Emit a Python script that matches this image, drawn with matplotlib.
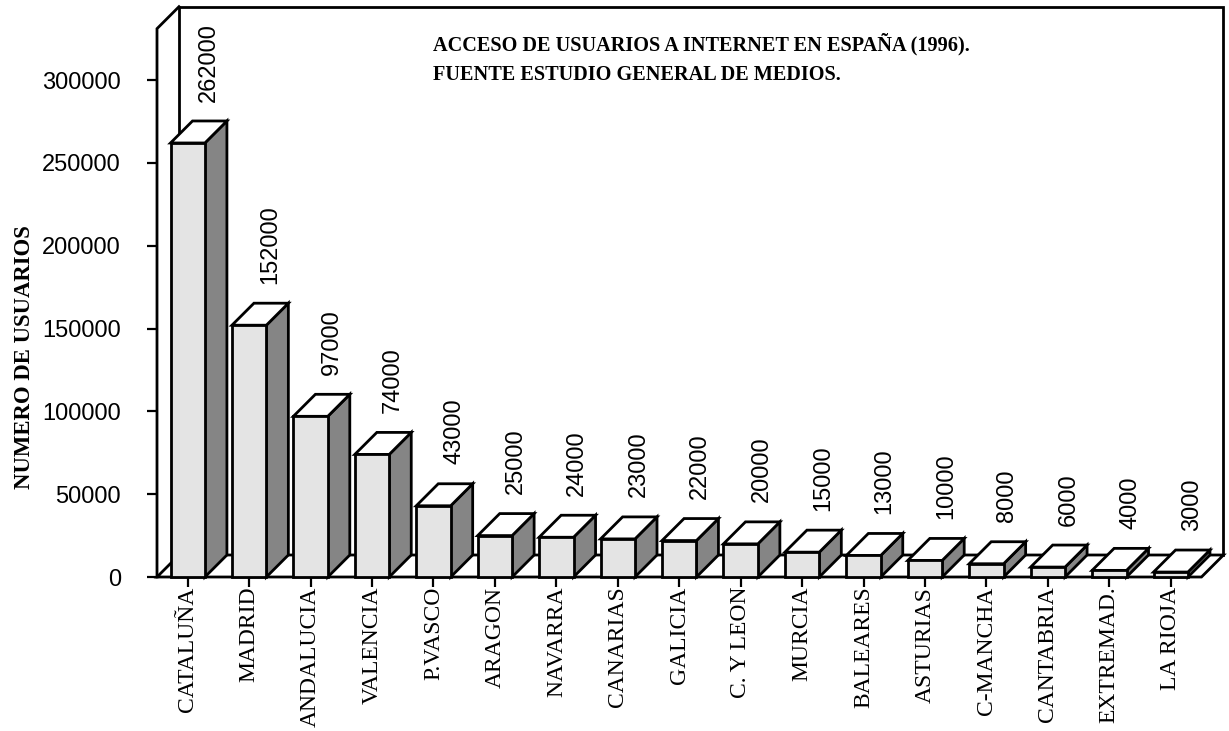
import numpy as np
import matplotlib
matplotlib.use("Agg")
import matplotlib.pyplot as plt
from matplotlib.patches import Polygon

# ── data ─────────────────────────────────────────────────────────────────────
REGIONS = ["CATALUÑA", "MADRID", "ANDALUCIA", "VALENCIA", "P.VASCO", "ARAGON",
           "NAVARRA", "CANARIAS", "GALICIA", "C. Y LEON", "MURCIA", "BALEARES",
           "ASTURIAS", "C-MANCHA", "CANTABRIA", "EXTREMAD.", "LA RIOJA"]
USERS = [262000, 152000, 97000, 74000, 43000, 25000, 24000, 23000, 22000,
         20000, 15000, 13000, 10000, 8000, 6000, 4000, 3000]
Y_TICKS = [0, 50000, 100000, 150000, 200000, 250000, 300000]

TITLE = ("ACCESO DE USUARIOS A INTERNET EN ESPAÑA (1996).\n"
         "FUENTE ESTUDIO GENERAL DE MEDIOS.")
YLABEL = "NUMERO DE USUARIOS"

# ── fake-3D geometry (data units) ────────────────────────────────────────────
DX = 0.358          # depth offset along x (category units)
DY = 13280          # depth offset along y (value units)
BAR_W = 0.56
Y_FRONT_TOP = 331000

FRONT = "#e4e4e4"
SIDE = "#858585"
LW = 2.0

plt.rcParams["font.family"] = ["Liberation Sans", "DejaVu Sans"]

fig = plt.figure(figsize=(12.29, 7.31), dpi=100)
ax = fig.add_axes([157 / 1229, (731 - 577) / 731, 1070 / 1229, 572 / 731])
n = len(REGIONS)
ax.set_xlim(0, 1070 / 61.44)
ax.set_ylim(0, 572 / 82.83 * 50000)
for s in ax.spines.values():
    s.set_visible(False)

top = Y_FRONT_TOP + DY
kw = dict(color="black", lw=LW, clip_on=False, solid_capstyle="projecting",
          solid_joinstyle="miter")
# back wall (behind everything)
ax.plot([DX, DX, n + DX, n + DX], [DY, top, top, DY], zorder=0.5, **kw)
# floor
ax.add_patch(Polygon([(0, 0), (n, 0), (n + DX, DY), (DX, DY)], closed=True,
                     facecolor="white", edgecolor="black", lw=LW,
                     joinstyle="miter", clip_on=False, zorder=0.8))
# front y axis + top diagonal
ax.plot([0, 0, DX], [0, Y_FRONT_TOP, top], zorder=3, **kw)

# bars
for i, v in enumerate(USERS):
    x0 = i + 0.5 - BAR_W / 2
    x1 = x0 + BAR_W
    faces = [
        ([(x1, 0), (x1 + DX, DY), (x1 + DX, v + DY), (x1, v)], SIDE),
        ([(x0, v), (x1, v), (x1 + DX, v + DY), (x0 + DX, v + DY)], "white"),
        ([(x0, 0), (x1, 0), (x1, v), (x0, v)], FRONT),
    ]
    for pts, fc in faces:
        ax.add_patch(Polygon(pts, closed=True, facecolor=fc, edgecolor="black",
                             lw=LW, joinstyle="miter", clip_on=False, zorder=1))
    ax.annotate(str(v), xy=(i + 0.5 + DX * 0.95, v + DY), xytext=(0, 14),
                textcoords="offset points", rotation=90, ha="center",
                va="bottom", fontsize=17)

# ticks
ax.set_yticks(Y_TICKS)
ax.set_yticklabels([str(t) for t in Y_TICKS], fontsize=17)
ax.set_xticks(np.arange(n) + 0.5)
ax.set_xticklabels(REGIONS, rotation=90, fontsize=17, family="Liberation Serif",
                   va="top", ha="center")
ax.tick_params(axis="y", length=7, width=1.6, pad=19, direction="out")
ax.tick_params(axis="x", length=7, width=1.6, pad=0, direction="out")

ax.text((25 - 157) / 1070, 1 - (357 - 5) / 572, YLABEL, transform=ax.transAxes,
        rotation=90, ha="center", va="center", fontsize=16.4, fontweight="bold",
        family="Liberation Serif")
ax.text((433 - 157) / 1070, 1 - (33 - 5) / 572, TITLE, transform=ax.transAxes,
        ha="left", va="top", fontsize=14.6, fontweight="bold",
        family="Liberation Serif", linespacing=1.62)

fig.savefig("out.png", dpi=100)
